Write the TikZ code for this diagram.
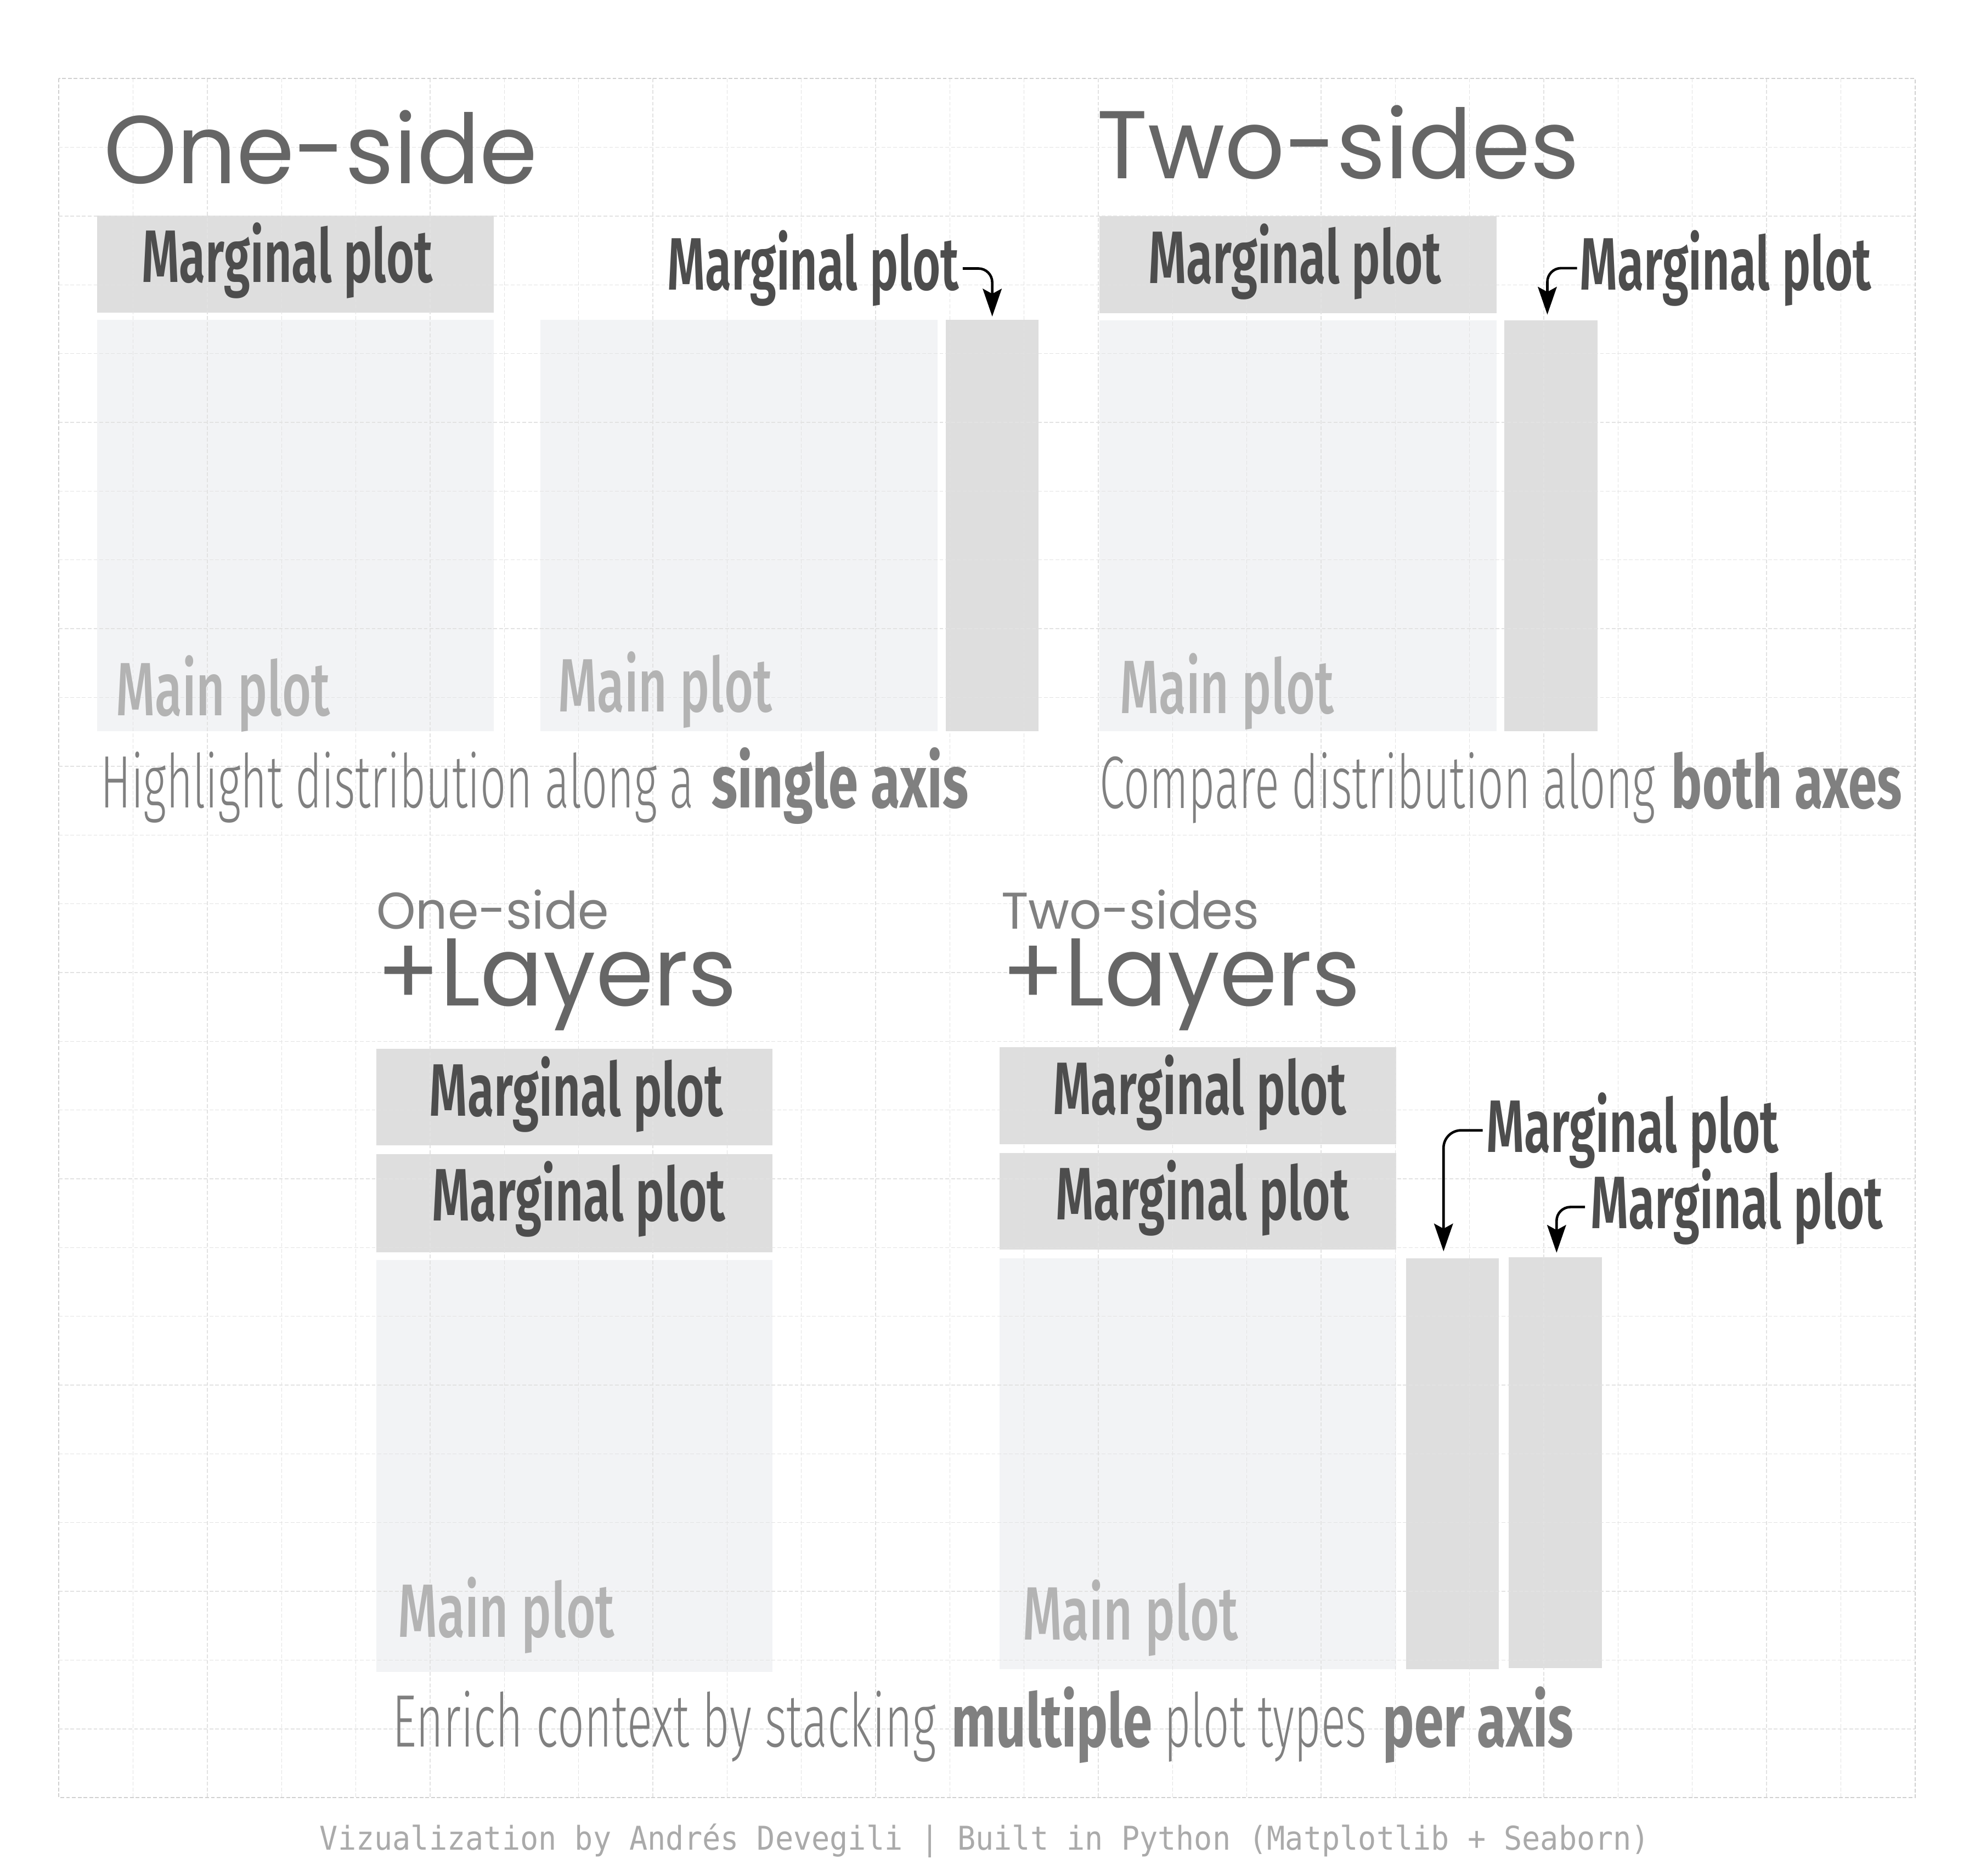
\documentclass[tikz,border=0pt]{standalone}
\usepackage{fontspec}
\usepackage{graphicx}
\usetikzlibrary{arrows.meta}
\newfontfamily\titlefont{Poppins}
\newfontfamily\osw{Fira Sans}
\newfontfamily\oswlight{Fira Sans Light}
\newfontfamily\oswmed{Fira Sans Medium}
\newfontfamily\oswsemi{Fira Sans SemiBold}
\newfontfamily\footmono{DejaVu Sans Mono}
\definecolor{gridc}{HTML}{E2E2E2}
\definecolor{framec}{HTML}{D0D0D0}
\definecolor{margc}{HTML}{DEDEDE}
\definecolor{mainc}{HTML}{F2F3F5}
\definecolor{margtxtc}{HTML}{4D4D4D}
\definecolor{maintxtc}{HTML}{B3B3B3}
\definecolor{captxtc}{HTML}{808080}
\definecolor{titletxtc}{HTML}{666666}
\definecolor{foottxtc}{HTML}{AAAAAA}
\newcommand\fitw[2]{\resizebox{#1pt}{\height}{#2}}
\tikzset{
  lbl/.style={anchor=base west, inner sep=0pt, outer sep=0pt},
  margbox/.style={draw=white, line width=1.2pt, fill=margc, inner sep=0pt, outer sep=0pt, anchor=north west},
  mainbox/.style={draw=white, line width=1.2pt, fill=mainc, inner sep=0pt, outer sep=0pt, anchor=north west},
  gridln/.style={draw=gridc, line width=0.6pt, dash pattern=on 3pt off 1.6pt},
  framel/.style={draw=framec, line width=0.9pt, dash pattern=on 3pt off 1.6pt},
  marrow/.style={line width=2pt, rounded corners=11pt, -{Stealth[length=22pt,width=15pt,inset=4pt]}},
  margtxt/.style={lbl, text=margtxtc, font=\oswsemi\fontsize{59}{60}\selectfont},
  maintxt/.style={lbl, text=maintxtc, font=\oswmed\fontsize{60}{60}\selectfont},
  captxt/.style={lbl, text=captxtc, font=\oswlight\fontsize{59}{60}\selectfont},
  capbold/.style={lbl, text=captxtc, font=\osw\bfseries\fontsize{59}{60}\selectfont},
  bigtitle/.style={lbl, text=titletxtc, font=\titlefont\fontsize{76.5}{80}\selectfont},
  smalltitle/.style={lbl, text=captxtc, font=\titlefont\fontsize{41}{44}\selectfont},
  foot/.style={lbl, text=foottxtc, font=\footmono\fontsize{26}{28}\selectfont},
}
\begin{document}
\begin{tikzpicture}[x=1pt,y=-1pt]
\useasboundingbox (0,0) rectangle (1568,1489.6);
\fill[white] (0,0) rectangle (1568,1489.6);

% ---------- boxes ----------
% top-left
\node[margbox, minimum width=316.4pt, minimum height=78.4pt] (tlm) at (76.3,170.6) {};
\node[mainbox, minimum width=316.4pt, minimum height=328.1pt] (tlmain) at (76.3,253.3) {};
% top-middle
\node[mainbox, minimum width=316.3pt, minimum height=328.1pt] (tmmain) at (428.5,253.3) {};
\node[margbox, minimum width=75.1pt, minimum height=328.1pt] (tmside) at (750.2,253.3) {};
% top-right
\node[margbox, minimum width=316.4pt, minimum height=78.4pt] (trm) at (872.2,171) {};
\node[mainbox, minimum width=316.4pt, minimum height=327.6pt] (trmain) at (872.2,253.8) {};
\node[margbox, minimum width=75.3pt, minimum height=327.6pt] (trside) at (1193.8,253.8) {};
% bottom-left
\node[margbox, minimum width=316pt, minimum height=78pt] (blm1) at (298,832) {};
\node[margbox, minimum width=316pt, minimum height=79pt] (blm2) at (298,916) {};
\node[mainbox, minimum width=316pt, minimum height=328pt] (blmain) at (298,1000) {};
% bottom-right
\node[margbox, minimum width=316pt, minimum height=78pt] (brm1) at (793,831) {};
\node[margbox, minimum width=316pt, minimum height=78pt] (brm2) at (793,915) {};
\node[mainbox, minimum width=316pt, minimum height=327.4pt] (brmain) at (793,998.6) {};
\node[margbox, minimum width=74.7pt, minimum height=327.4pt] (brs1) at (1115.7,998.6) {};
\node[margbox, minimum width=75pt, minimum height=327.4pt] (brs2) at (1197.3,997.7) {};

% ---------- grid ----------
\foreach \i in {1,...,24} {
  \draw[gridln] ({46.7+\i*58.948},62.4) -- ({46.7+\i*58.948},1427.4);
  \draw[gridln] (46.7,{62.4+\i*54.6}) -- (1520.4,{62.4+\i*54.6});
}
\draw[framel] (46.7,62.4) rectangle (1520.4,1427.4);

% ---------- titles ----------
\node[bigtitle] (t1) at (82.4,145.9) {\fitw{344.5}{One-side}};
\node[bigtitle] (t2) at (870.9,141.6) {\fitw{383.1}{Two-sides}};
\node[smalltitle] (t3a) at (299,737.5) {\fitw{184.5}{One-side}};
\node[bigtitle] (t3b) at (299,798.5) {\fitw{286}{+Layers}};
\node[smalltitle] (t4a) at (795,737.5) {\fitw{204.8}{Two-sides}};
\node[bigtitle] (t4b) at (795,798.5) {\fitw{285}{+Layers}};

% ---------- marginal texts ----------
\node[margtxt] (tlmt) at (112.4,224.3) {\fitw{231.2}{Marginal plot}};
\node[margtxt] (tmlbl) at (529.8,230.4) {\fitw{231.5}{Marginal plot}};
\node[margtxt] (trmt) at (911.8,225) {\fitw{232.4}{Marginal plot}};
\node[margtxt] (trlbl) at (1254,230.1) {\fitw{231.7}{Marginal plot}};
\node[margtxt] (blm1t) at (341,886) {\fitw{233}{Marginal plot}};
\node[margtxt] (blm2t) at (343,969.5) {\fitw{233}{Marginal plot}};
\node[margtxt] (brm1t) at (836,885) {\fitw{233}{Marginal plot}};
\node[margtxt] (brm2t) at (838,968.5) {\fitw{233}{Marginal plot}};
\node[margtxt] (brlbl1) at (1180.1,914.7) {\fitw{232}{Marginal plot}};
\node[margtxt] (brlbl2) at (1262.9,975.6) {\fitw{231.9}{Marginal plot}};

% ---------- main plot texts ----------
\node[maintxt] (tlmaint) at (92,568) {\fitw{170}{Main plot}};
\node[maintxt] (tmmaint) at (443,565) {\fitw{170}{Main plot}};
\node[maintxt] (trmaint) at (889,566.5) {\fitw{170}{Main plot}};
\node[maintxt] (blmaint) at (316,1300) {\fitw{172}{Main plot}};
\node[maintxt] (brmaint) at (812,1302) {\fitw{171}{Main plot}};

% ---------- captions ----------
\node[captxt] (c1a) at (80,641.4) {\fitw{471}{Highlight distribution along a}};
\node[capbold] (c1b) at (565,641.4) {\fitw{203.8}{single axis}};
\node[captxt] (c2a) at (873,641.7) {\fitw{441.3}{Compare distribution along}};
\node[capbold] (c2b) at (1327.1,641.7) {\fitw{183}{both axes}};
\node[captxt] (c3a) at (311.8,1387.2) {\fitw{431.3}{Enrich context by stacking}};
\node[capbold] (c3b) at (755.5,1387.2) {\fitw{159.4}{multiple}};
\node[captxt] (c3c) at (924.3,1387.2) {\fitw{160.7}{plot types}};
\node[capbold] (c3d) at (1098,1387.2) {\fitw{151.3}{per axis}};

% ---------- footer ----------
\node[foot] (footer) at (253.9,1469) {\fitw{1055.9}{Vizualization by Andrés Devegili | Built in Python (Matplotlib + Seaborn)}};

% ---------- arrows ----------
\draw[marrow] ([xshift=3pt]tmlbl.east) -| ([yshift=2pt]tmside.north);
\draw[marrow] ([xshift=-2pt]trlbl.west) -| ([xshift=-3pt,yshift=4pt]trside.north);
\draw[marrow, rounded corners=14pt] ([xshift=-3pt]brlbl1.west) -| ([xshift=-7pt,yshift=5pt]brs1.north);
\draw[marrow] ([xshift=-4.5pt]brlbl2.west) -| ([xshift=1pt,yshift=3pt]brs2.north);
\end{tikzpicture}
\end{document}
